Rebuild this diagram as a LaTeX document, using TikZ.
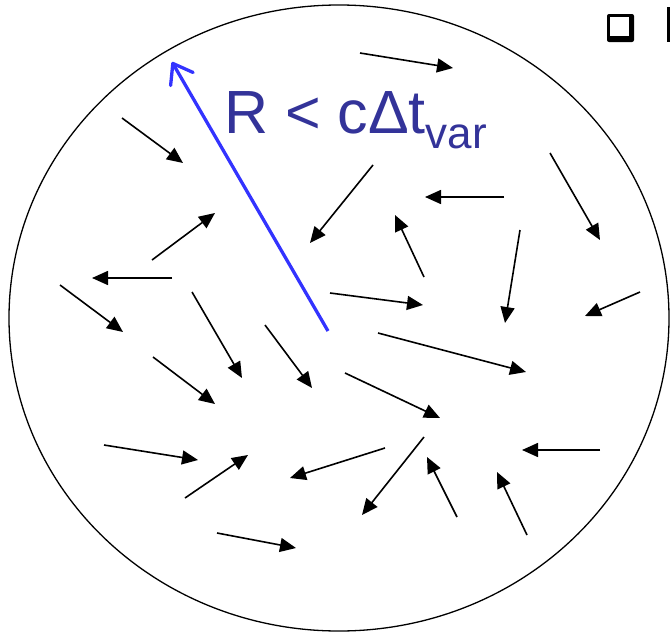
\documentclass[tikz,border=0pt]{standalone}
\usepackage{fontspec}
\setmainfont{Liberation Sans}
\usetikzlibrary{arrows.meta}
\definecolor{labelblue}{RGB}{51,51,153}
\definecolor{radblue}{RGB}{51,51,255}
\begin{document}
\begin{tikzpicture}[x=1pt,y=-1pt,
  vec/.style={line width=1.6pt, -{Triangle[length=16pt,width=14pt]}},
  radarrow/.style={radblue, line width=3.3pt, -{Straight Barb[length=18pt,width=26pt,round]}},
  bound/.style={line width=1.3pt}]
\useasboundingbox (0,0) rectangle (670,632);
\draw[bound] (339,318) ellipse [x radius=330pt, y radius=313pt];
% velocity vectors
\foreach \i/\sx/\sy/\ex/\ey in {
  1/360/53/453/68, 2/122/118/183/163, 3/373/165/310/243, 4/504/197/425/197,
  5/550/153/600/240, 6/152/260/215/213, 7/424/277/395/215, 8/520/230/505/323,
  9/172/278/92/278, 10/60/285/123/332, 11/330/293/423/305, 12/640/292/585/316,
  13/192/292/242/378, 14/265/325/312/388, 15/378/333/526/372, 16/153/357/215/404,
  17/345/373/440/418, 18/104/445/198/460, 19/185/498/248/455, 20/385/448/290/478,
  21/424/437/362/515, 22/457/517/427/457, 23/600/450/522/450, 24/527/535/497/472,
  25/217/533/296/548}{
  \coordinate (s\i) at (\sx,\sy);
  \coordinate (e\i) at (\ex,\ey);
  \draw[vec] (s\i) -- (e\i);
}
% radius arrow
\coordinate (rc) at (328,331);
\coordinate (rt) at (172,62);
\draw[radarrow] (rc) -- (rt);
\node[anchor=base west, inner sep=0pt, text=labelblue, font=\fontsize{61}{61}\selectfont] (lbl) at (224,133)
  {R < cΔt\raisebox{-15pt}{\fontsize{44}{44}\selectfont var}};
% bullet checkbox and clipped text
\fill[rounded corners=2pt] (607,14) rectangle (634,42);
\fill[white] (609.5,16.5) rectangle (629,36);
\fill (667,7) rectangle (670,42);
\end{tikzpicture}
\end{document}
